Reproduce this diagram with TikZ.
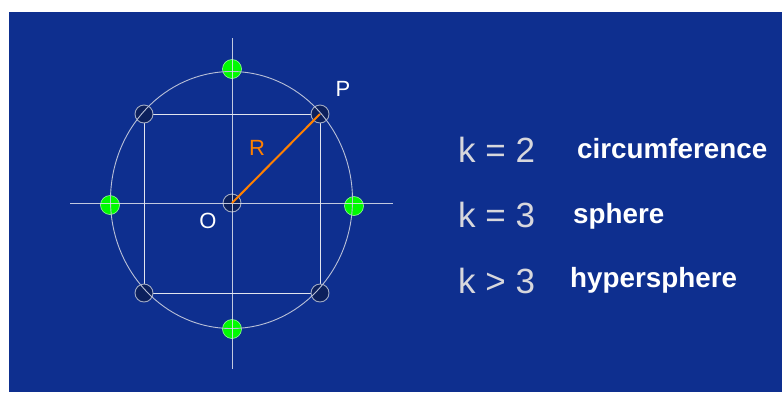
\documentclass[tikz,border=0pt]{standalone}
\usepackage{fontspec}
\setmainfont{Liberation Sans}
\definecolor{bgblue}{RGB}{14,47,143}
\definecolor{darkdot}{RGB}{12,32,92}
\definecolor{dotrim}{RGB}{160,170,195}
\definecolor{ringcol}{RGB}{185,192,215}
\definecolor{axiscol}{RGB}{225,228,238}
\definecolor{kgray}{RGB}{215,215,220}
\definecolor{radorange}{RGB}{255,128,0}
\definecolor{greendot}{RGB}{0,250,0}
\begin{document}
\begin{tikzpicture}[x=1pt,y=-1pt,
  darkpt/.style={circle,draw=dotrim,fill=darkdot,line width=0.9pt,minimum size=18pt,inner sep=0pt},
  greenpt/.style={circle,draw=green!40!white,fill=greendot,line width=0.6pt,minimum size=19pt,inner sep=0pt},
  klabel/.style={anchor=base west,text=kgray,font=\fontsize{35}{40}\selectfont,inner sep=0pt},
  wlabel/.style={anchor=base west,text=white,font=\fontsize{27.8}{32}\selectfont\bfseries,inner sep=0pt},
  ptlabel/.style={text=white,font=\fontsize{22}{25}\selectfont,inner sep=0pt}]
\useasboundingbox (0,0) rectangle (782,392);
\fill[white] (0,0) rectangle (782,392);
\fill[bgblue] (9,12) rectangle (782,392);
% coordinates
\coordinate (ax1) at (232,38);
\coordinate (ax2) at (232,369);
\coordinate (ay1) at (70,203);
\coordinate (ay2) at (393,203);
% square
\draw[axiscol,line width=0.8pt] (144,114) rectangle (320,293);
% dots
\node[darkpt] (tl) at (144,114) {};
\node[darkpt] (P) at (320,114) {};
\node[darkpt] (bl) at (144,293) {};
\node[darkpt] (br) at (320,293) {};
\node[darkpt] (O) at (232,203) {};
\node[greenpt] (gt) at (232,69) {};
\node[greenpt] (gb) at (232,329) {};
\node[greenpt] (gl) at (110,205) {};
\node[greenpt] (gr) at (354,206) {};
% circle and axes
\draw[ringcol,line width=0.9pt] (231.5,200) ellipse [x radius=121, y radius=128.5];
\draw[axiscol,line width=0.8pt,draw opacity=0.85] (ax1) -- (ax2);
\draw[axiscol,line width=0.8pt,draw opacity=0.85] (ay1) -- (ay2);
% radius
\draw[radorange,line width=2pt] (O.center) -- (P.center);
% labels
\node[ptlabel] (Plab) at (343,89) {P};
\node[ptlabel] (Olab) at (208,221) {O};
\node[ptlabel,text=radorange] (Rlab) at (257,148) {R};
% right text
\node[klabel] (k2) at (458,162) {k = 2};
\node[klabel] (k3) at (458,227) {k = 3};
\node[klabel] (k4) at (458,293) {k > 3};
\node[wlabel] (w1) at (577,158) {circumference};
\node[wlabel] (w2) at (573,223) {sphere};
\node[wlabel] (w3) at (570,287) {hypersphere};
\end{tikzpicture}
\end{document}
